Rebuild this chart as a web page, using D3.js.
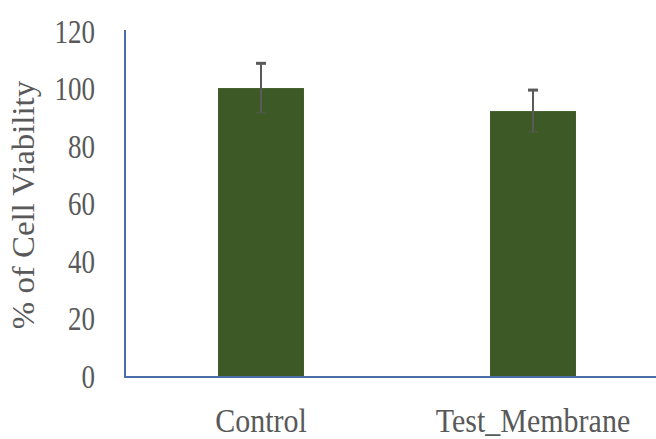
<!DOCTYPE html>
<html>
<head>
<meta charset="utf-8">
<script src="https://cdn.jsdelivr.net/npm/d3@7"></script>
<style>
html,body{margin:0;padding:0;background:#fff;}
svg{display:block;}
</style>
</head>
<body>
<script>
const categories = ["Control", "Test_Membrane"];
const values = [100.5, 92.5];
const errors = [8.6, 7.3];
const yTicks = [0, 20, 40, 60, 80, 100, 120];

const W = 656, H = 439;
const svg = d3.select("body").append("svg").attr("width", W).attr("height", H);

const x0 = 125, yBottom = 377, yTop = 32;
const x = d3.scaleBand().domain(categories).range([x0, 669]).paddingInner(0.684).paddingOuter(0.342);
const y = d3.scaleLinear().domain([0, 120]).range([yBottom, yTop]);

const font = "'Liberation Serif', 'Times New Roman', serif";
const textColor = "#595959";

// y tick labels via axis
const yAxis = d3.axisLeft(y).tickValues(yTicks).tickSize(0).tickPadding(0);
const gy = svg.append("g").attr("transform", `translate(95,0)`).call(yAxis);
gy.select(".domain").remove();
gy.selectAll("text").attr("font-family", font).attr("font-size", 27).attr("fill", textColor)
  .attr("x", 0).attr("dy", "0.3em").attr("transform", "scale(1,1.27)");

// bars
svg.append("g").selectAll("rect").data(categories).join("rect")
  .attr("x", d => x(d))
  .attr("y", (d, i) => y(values[i]))
  .attr("width", x.bandwidth())
  .attr("height", (d, i) => y(0) - y(values[i]))
  .attr("fill", "#3d5a26");

// error bars
const eb = svg.append("g").attr("stroke", "#5a5a5a").attr("stroke-width", 2);
categories.forEach((c, i) => {
  const cx = x(c) + x.bandwidth() / 2;
  const top = y(values[i] + errors[i]), bot = y(values[i] - errors[i]);
  eb.append("line").attr("x1", cx).attr("x2", cx).attr("y1", top).attr("y2", bot);
  eb.append("line").attr("x1", cx - 5).attr("x2", cx + 5).attr("y1", top).attr("y2", top).attr("stroke-width", 3);
  eb.append("line").attr("x1", cx - 5).attr("x2", cx + 5).attr("y1", bot).attr("y2", bot).attr("stroke-opacity", 0.4);
});

// axis lines
svg.append("path")
  .attr("d", `M${x0},${y(120) - 2}V${yBottom}H${W}`)
  .attr("fill", "none").attr("stroke", "#4a6fa8").attr("stroke-width", 2);

// x labels via axis
const xAxis = d3.axisBottom(x).tickSize(0).tickPadding(0);
const gx = svg.append("g").attr("transform", `translate(0,${yBottom})`).call(xAxis);
gx.select(".domain").remove();
gx.selectAll("text").attr("font-family", font).attr("font-size", 30).attr("fill", textColor)
  .attr("y", 0).attr("dy", "0.33em").attr("transform", "translate(0,44) scale(1,1.15)");

// y axis title
svg.append("text")
  .attr("transform", `translate(34,205) rotate(-90) scale(1.06,1)`)
  .attr("text-anchor", "middle")
  .attr("font-family", font).attr("font-size", 31).attr("fill", textColor)
  .text("% of Cell Viability");
</script>
</body>
</html>
